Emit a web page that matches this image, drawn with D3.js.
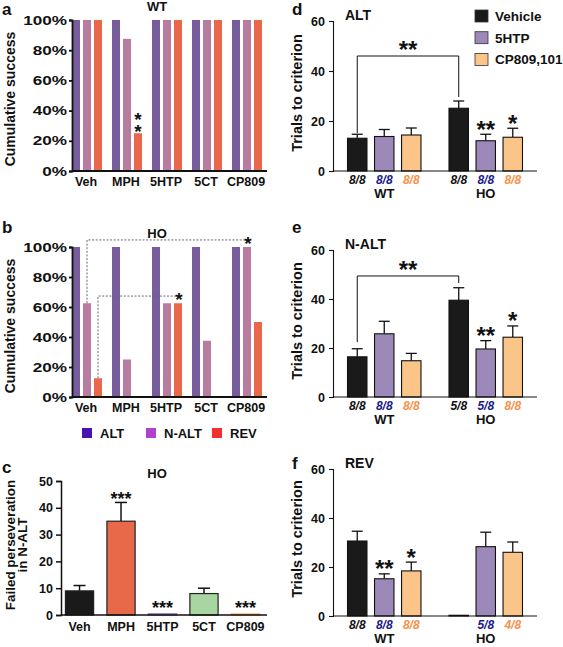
<!DOCTYPE html>
<html><head><meta charset="utf-8">
<script src="https://cdn.jsdelivr.net/npm/d3@7"></script>
<style>
body{margin:0;background:#fff}
svg text{font-family:"Liberation Sans",Arial,Helvetica,sans-serif;font-weight:bold;fill:#111}
</style>
</head><body>
<svg id="chart" width="563" height="647"></svg>
<script>
// ---------- DATA ----------
const drugs = ["Veh", "MPH", "5HTP", "5CT", "CP809"];
const phases = ["ALT", "N-ALT", "REV"];
const pctTicks = [0, 20, 40, 60, 80, 100];
// panel a (WT) cumulative success, %
const wtALT  = [100, 100, 100, 100, 100];
const wtNALT = [100, 87.5, 100, 100, 100];
const wtREV  = [100, 25, 100, 100, 100];
// panel b (HO) cumulative success, %
const hoALT  = [100, 100, 100, 100, 100];
const hoNALT = [62.5, 25, 62.5, 37.5, 100];
const hoREV  = [12.5, 0, 62.5, 0, 50];
// panel c (HO) failed perseveration in N-ALT
const cMean = [9, 35, 0.4, 8, 0.3];
const cSem  = [2, 7, 0, 2, 0];
const cStars = ["", "***", "***", "", "***"];
const cTicks = [0, 10, 20, 30, 40, 50];
// panels d-f trials to criterion
const genotypes = ["WT", "HO"];
const treatments = ["Vehicle", "5HTP", "CP809,101"];
const trialTicks = [0, 20, 40, 60];
const altMean  = [13.1, 13.8, 14.4, 25.1, 12.1, 13.5];
const altSem   = [1.6, 2.8, 2.8, 2.9, 2.6, 3.6];
const altN     = ["8/8", "8/8", "8/8", "8/8", "8/8", "8/8"];
const altStars = ["", "", "", "", "**", "*"];
const naltMean  = [16.4, 25.8, 14.8, 39.5, 19.6, 24.4];
const naltSem   = [3.3, 5.1, 3.0, 5.1, 3.4, 4.6];
const naltN     = ["8/8", "8/8", "8/8", "5/8", "5/8", "8/8"];
const naltStars = ["", "", "", "", "**", "*"];
const revMean  = [30.6, 15.2, 18.4, 0.3, 28.3, 26.0];
const revSem   = [4.0, 2.0, 3.6, 0, 5.9, 4.2];
const revN     = ["8/8", "8/8", "8/8", "", "5/8", "4/8"];
const revStars = ["", "**", "*", "", "", ""];

// ---------- STYLE ----------
const succColors = ["#775d9c", "#b97ca1", "#e9674b"];
const legendColors = ["#4a13b0", "#b042d0", "#f2302e"];
const cColors = ["#1a1a1a", "#e8684a", "#8a74b4", "#a9d5a2", "#f79a4a"];
const trtColors = ["#1a1a1a", "#9c89b9", "#fbc589"];
const nColors = ["#111111", "#1b1b8c", "#f7914a"];

const svg = d3.select("#chart");

function txt(x, y, s, size, anchor) {
  return svg.append("text").attr("x", x).attr("y", y).attr("font-size", size)
    .attr("text-anchor", anchor || "start").text(s);
}
function star(g, cx, cy, s, size) {
  // visual centre of the asterisk glyph ~0.56em above baseline
  return g.append("text").attr("x", cx).attr("y", cy + 0.56 * size)
    .attr("text-anchor", "middle").attr("font-size", size).text(s);
}
function yLabel(cx, cy, s, size) {
  svg.append("text").attr("transform", `translate(${cx + 0.36 * size},${cy}) rotate(-90)`)
    .attr("text-anchor", "middle").attr("font-size", size).text(s);
}
function styleAxis(g, w) {
  g.select(".domain").attr("stroke", "#111").attr("stroke-width", w);
  g.selectAll(".tick line").attr("stroke", "#111").attr("stroke-width", w);
  g.selectAll(".tick text").attr("fill", "#111");
}

// ---------- PANELS a, b ----------
function successPanel(top, bottom, series, comps) {
  const g = svg.append("g");
  const y = d3.scaleLinear().domain([0, 100]).range([bottom, top]);
  const x0 = d3.scaleBand().domain(drugs).range([67, 267]).paddingInner(0.25).paddingOuter(0.125);
  const x1 = d3.scaleBand().domain(phases).range([0, x0.bandwidth()]).paddingInner(0.27);
  drugs.forEach((d, i) => phases.forEach((p, j) => {
    const v = series[j][i];
    g.append("rect").attr("x", x0(d) + x1(p)).attr("width", x1.bandwidth())
      .attr("y", y(v)).attr("height", y(0) - y(v)).attr("fill", succColors[j]);
  }));
  const ax = g.append("g").attr("transform", "translate(72,0)")
    .call(d3.axisLeft(y).tickValues(pctTicks).tickFormat(d => d + "%").tickSize(3).tickPadding(2));
  styleAxis(ax, 1.8);
  ax.selectAll(".tick text").attr("font-size", 12.5).each(function () {
    const w = this.getComputedTextLength();
    d3.select(this).attr("textLength", w * 1.37).attr("lengthAdjust", "spacingAndGlyphs");
  });
  g.append("line").attr("x1", 72).attr("x2", 267).attr("y1", bottom).attr("y2", bottom)
    .attr("stroke", "#111").attr("stroke-width", 1.8);
  drugs.forEach(d => {
    g.append("text").attr("x", x0(d) + x0.bandwidth() / 2 - 1).attr("y", bottom + 15)
      .attr("text-anchor", "middle").attr("font-size", 12.5).text(d);
  });
  (comps || []).forEach(c => {
    const fi = drugs.indexOf(c.from[0]), fj = phases.indexOf(c.from[1]);
    const xa = x0(c.from[0]) + x1(c.from[1]) + x1.bandwidth() / 2;
    const xb = x0(c.to[0]) + x1(c.to[1]) + x1.bandwidth() / 2;
    g.append("path")
      .attr("d", `M${xa},${y(series[fj][fi])}V${y(c.level)}H${xb}`)
      .attr("fill", "none").attr("stroke", "#666").attr("stroke-width", 1)
      .attr("stroke-dasharray", "2,1.6");
    star(g, xb + 1, y(c.level) - 1, c.s, 19);
  });
  return {g, x0, x1, y};
}

txt(2, 15, "a", 17);
txt(157, 11, "WT", 13, "middle");
yLabel(10, 99, "Cumulative success", 14);
const pa = successPanel(20, 171, [wtALT, wtNALT, wtREV]);
{
  // two asterisks stacked vertically above the MPH REV bar (one vertical text)
  const cx = pa.x0("MPH") + pa.x1("REV") + pa.x1.bandwidth() / 2;
  pa.g.append("text").attr("x", cx).attr("y", pa.y(wtREV[1]) - 24)
    .attr("font-size", 19)
    .style("writing-mode", "vertical-rl").style("text-orientation", "upright")
    .style("letter-spacing", "-9px")
    .text("**");
}

txt(2, 233, "b", 17);
txt(157, 238, "HO", 13, "middle");
yLabel(10, 326, "Cumulative success", 14);
successPanel(247, 397, [hoALT, hoNALT, hoREV], [
  {from: ["Veh", "N-ALT"], to: ["CP809", "N-ALT"], level: 104.7, s: "*"},
  {from: ["Veh", "REV"], to: ["5HTP", "REV"], level: 67.3, s: "*"}
]);

// legend for a/b
{
  const lx = [82, 146, 212];
  phases.forEach((p, i) => {
    svg.append("rect").attr("x", lx[i]).attr("y", 428).attr("width", 10).attr("height", 10)
      .attr("fill", legendColors[i]);
    txt(lx[i] + 18, 438, p, 13);
  });
}

// ---------- PANEL c ----------
{
  txt(2, 473, "c", 17);
  txt(157, 478, "HO", 13, "middle");
  yLabel(10, 545, "Failed perseveration", 13.4);
  yLabel(22, 545, "in N-ALT", 13.4);
  const g = svg.append("g");
  const y = d3.scaleLinear().domain([0, 50]).range([615, 481]);
  const x = d3.scaleBand().domain(drugs).range([59, 266]).paddingInner(0.32).paddingOuter(0.155);
  drugs.forEach((d, i) => {
    const xc = x(d) + x.bandwidth() / 2;
    if (cSem[i] > 0) {
      const yt = y(cMean[i] + cSem[i]);
      g.append("line").attr("x1", xc).attr("x2", xc).attr("y1", y(cMean[i])).attr("y2", yt)
        .attr("stroke", "#111").attr("stroke-width", 1.5);
      g.append("line").attr("x1", xc - 6).attr("x2", xc + 6).attr("y1", yt).attr("y2", yt)
        .attr("stroke", "#111").attr("stroke-width", 1.5);
    }
    const big = cMean[i] > 1;
    g.append("rect").attr("x", x(d)).attr("width", x.bandwidth())
      .attr("y", y(cMean[i])).attr("height", y(0) - y(cMean[i]))
      .attr("fill", cColors[i])
      .attr("stroke", big ? "#222" : cColors[i]).attr("stroke-width", big ? 1.2 : 1.5);
    if (cStars[i]) star(g, xc, y(cMean[i] + cSem[i]) - (big ? 8 : 10), cStars[i], 18);
    g.append("text").attr("x", xc).attr("y", 631).attr("text-anchor", "middle")
      .attr("font-size", 12.5).text(d);
  });
  const ax = g.append("g").attr("transform", "translate(61,0)")
    .call(d3.axisLeft(y).tickValues(cTicks).tickSize(5).tickPadding(3));
  styleAxis(ax, 1.5);
  ax.selectAll(".tick text").attr("font-size", 12.5);
  g.append("line").attr("x1", 61).attr("x2", 267).attr("y1", 615).attr("y2", 615)
    .attr("stroke", "#111").attr("stroke-width", 1.5);
}

// ---------- PANELS d, e, f ----------
function trialsPanel(top, bottom, means, sems, nl, stars, bracket) {
  const g = svg.append("g");
  const y = d3.scaleLinear().domain([0, 60]).range([bottom, top]);
  const x0 = d3.scaleBand().domain(genotypes).range([333, 537]).paddingInner(0.276).paddingOuter(0.143);
  const x1 = d3.scaleBand().domain(treatments).range([0, x0.bandwidth()]).paddingInner(0.28);
  const cx = (k) => x0(genotypes[Math.floor(k / 3)]) + x1(treatments[k % 3]) + x1.bandwidth() / 2;
  means.forEach((m, k) => {
    const gi = Math.floor(k / 3), ti = k % 3;
    const xl = x0(genotypes[gi]) + x1(treatments[ti]);
    const xc = cx(k);
    if (sems[k] > 0) {
      const yt = y(m + sems[k]);
      g.append("line").attr("x1", xc).attr("x2", xc).attr("y1", y(m)).attr("y2", yt)
        .attr("stroke", "#111").attr("stroke-width", 1.3);
      g.append("line").attr("x1", xc - 5.5).attr("x2", xc + 5.5).attr("y1", yt).attr("y2", yt)
        .attr("stroke", "#111").attr("stroke-width", 1.3);
    }
    g.append("rect").attr("x", xl).attr("width", x1.bandwidth())
      .attr("y", y(m)).attr("height", y(0) - y(m))
      .attr("fill", trtColors[ti]).attr("stroke", "#111").attr("stroke-width", 1.1);
    if (stars[k]) star(g, xc, y(m + sems[k]) - 10, stars[k], 24);
    if (nl[k]) g.append("text").attr("x", xc).attr("y", bottom + 13).attr("text-anchor", "middle")
      .attr("font-size", 12).attr("font-style", "italic").style("fill", nColors[ti]).text(nl[k]);
  });
  genotypes.forEach(gn => {
    g.append("text").attr("x", x0(gn) + x0.bandwidth() / 2).attr("y", bottom + 27)
      .attr("text-anchor", "middle").attr("font-size", 13).text(gn);
  });
  if (bracket) {
    const xa = cx(bracket.from), xb = cx(bracket.to);
    g.append("path")
      .attr("d", `M${xa},${y(bracket.left)}V${y(bracket.level)}H${xb}V${y(bracket.right)}`)
      .attr("fill", "none").attr("stroke", "#111").attr("stroke-width", 1);
    star(g, (xa + xb) / 2, y(bracket.level) - 11, "**", 24);
  }
  const ax = g.append("g").attr("transform", "translate(333,0)")
    .call(d3.axisLeft(y).tickValues(trialTicks).tickSize(4).tickPadding(4));
  styleAxis(ax, 1.1);
  ax.selectAll(".tick text").attr("font-size", 12.5);
  g.append("line").attr("x1", 333).attr("x2", 537).attr("y1", bottom).attr("y2", bottom)
    .attr("stroke", "#111").attr("stroke-width", 1.1);
}

txt(292, 15, "d", 17);
txt(345, 20, "ALT", 14);
yLabel(297, 93, "Trials to criterion", 14.5);
trialsPanel(21, 171, altMean, altSem, altN, altStars, {from: 0, to: 3, level: 46, left: 15.2, right: 29.6});

txt(292, 233, "e", 17);
txt(345, 249, "N-ALT", 14);
yLabel(297, 321, "Trials to criterion", 14.5);
trialsPanel(250, 397, naltMean, naltSem, naltN, naltStars, {from: 0, to: 3, level: 49.4, left: 22.4, right: 46.5});

txt(292, 469, "f", 17);
txt(345, 468, "REV", 14);
yLabel(297, 539, "Trials to criterion", 14.5);
trialsPanel(469, 616, revMean, revSem, revN, revStars, null);

// legend for d-f
treatments.forEach((t, i) => {
  svg.append("rect").attr("x", 475).attr("y", 10 + i * 21.7).attr("width", 13).attr("height", 12)
    .attr("fill", trtColors[i]).attr("stroke", "#333").attr("stroke-width", 0.8);
  txt(495, 21 + i * 21.7, t, 13.5);
});
</script>
</body></html>
